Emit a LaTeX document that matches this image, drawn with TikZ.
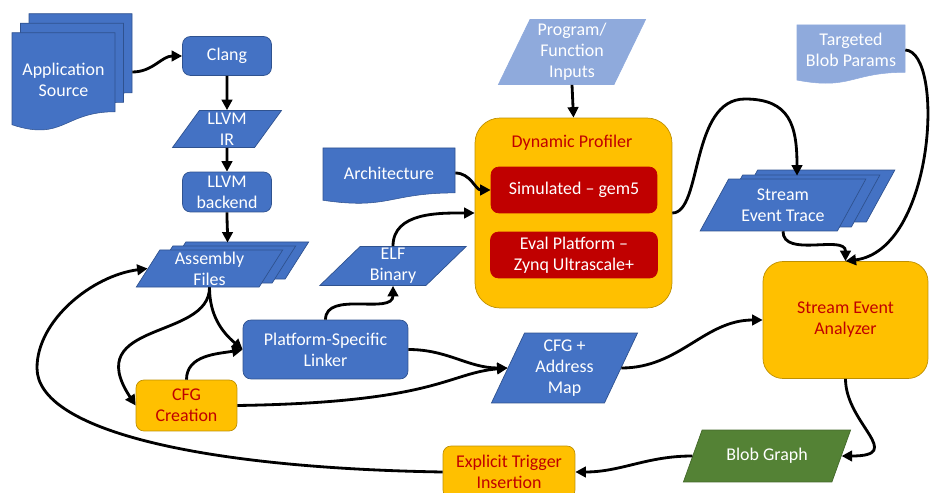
\documentclass[tikz,border=0pt]{standalone}
\usepackage{fontspec}
\setmainfont{Carlito}
\usetikzlibrary{arrows.meta,shapes.geometric,shadows}

\definecolor{boxblue}{HTML}{4472C4}
\definecolor{boxblueline}{HTML}{2F528F}
\definecolor{paleblue}{HTML}{8FAADC}
\definecolor{boxyellow}{HTML}{FFC000}
\definecolor{boxyellowline}{HTML}{BF9000}
\definecolor{darkred}{HTML}{C00000}
\definecolor{boxgreen}{HTML}{548235}

% document shape: centre x, centre y, width, height, style
\newcommand{\docshape}[5]{%
  \filldraw[#5] (#1-#3/2,#2-#4/2) -- (#1+#3/2,#2-#4/2) -- (#1+#3/2,#2-#4/2+0.802*#4)
    .. controls (#1,#2-#4/2+0.802*#4) and (#1,#2-#4/2+1.107*#4) .. (#1-#3/2,#2-#4/2+0.934*#4) -- cycle;}

\tikzset{
  proc/.style={rectangle, rounded corners=0.16cm, fill=boxblue, draw=boxblueline, text=white},
  stage/.style={rectangle, rounded corners=0.16cm, fill=boxyellow, draw=boxyellowline, text=darkred},
  tool/.style={rectangle, rounded corners=0.16cm, fill=darkred, draw=darkred, text=white},
  data/.style 2 args={trapezium, trapezium stretches=true, trapezium left angle=#1,
    trapezium right angle=#2, fill=boxblue, draw=boxblueline, text=white},
  docu/.style={fill=boxblue, draw=boxblueline, line width=0.3pt},
}

\begin{document}
\begin{tikzpicture}[x=0.02cm, y=-0.02cm]
    \useasboundingbox (0,0) rectangle (930,493);

    % document shapes behind their labels
    \docshape{80.5}{63}{103}{98.5}{docu}
    \docshape{72}{72.5}{103}{98.5}{docu}
    \docshape{63.5}{82}{103}{98.5}{docu}
    \docshape{389}{176}{132}{56}{docu}
    \docshape{851}{54.5}{108}{59}{docu, fill=paleblue, draw=paleblue}

    \begin{scope}[every node/.style={align=center, inner sep=1pt, font=\fontsize{10.2}{12}\selectfont}]
      \node[text=white, minimum width=2.06cm, minimum height=1.97cm] (appsrc) at (63.5,80) {Application\\Source};
      \node[text=white, minimum width=2.64cm, minimum height=1.12cm] (arch) at (389,173) {Architecture};
      \node[text=white, minimum width=2.16cm, minimum height=1.18cm] (blobparams) at (851,50) {Targeted\\Blob Params};

      \node[proc, minimum width=1.78cm, minimum height=0.78cm] (clang) at (227,56) {Clang};
      \node[data={60}{120}, minimum width=2.18cm, minimum height=0.74cm] (llvmir) at (227,129) {LLVM\\IR};
      \node[proc, minimum width=1.78cm, minimum height=0.8cm] (backend) at (227,192) {LLVM\\backend};
      \node[data={65}{115}, minimum width=2.94cm, minimum height=0.74cm,
        copy shadow={shadow xshift=0.52cm, shadow yshift=0.16cm, fill=boxblue, draw=boxblueline},
        copy shadow={shadow xshift=0.26cm, shadow yshift=0.08cm, fill=boxblue, draw=boxblueline}] (asm) at (209.5,268.5) {Assembly\\Files};
      \node[data={52}{128}, minimum width=2.94cm, minimum height=0.74cm] (elf) at (393,266) {ELF\\Binary};
      \node[proc, minimum width=3.3cm, minimum height=1.18cm] (linker) at (325.5,349.5) {Platform-Specific\\Linker};
      \node[stage, minimum width=2.02cm, minimum height=1.02cm] (cfg) at (186.5,405.5) {CFG\\Creation};
      \node[data={67}{113}, minimum width=2.94cm, minimum height=1.4cm] (cfgmap) at (564.5,368) {CFG +\\Address\\Map};

      \node[data={66}{114}, fill=paleblue, draw=paleblue, minimum width=2.96cm, minimum height=1.3cm] (inputs) at (572,52) {Program/\\Function\\Inputs};
      \node[stage, rounded corners=0.5cm, minimum width=3.94cm, minimum height=3.8cm] (profiler) at (573.5,213) {};
      \node[text=darkred] (proftitle) at (572,143) {Dynamic Profiler};
      \node[tool, minimum width=3.32cm, minimum height=0.92cm] (sim) at (574,190) {Simulated -- gem5};
      \node[tool, minimum width=3.34cm, minimum height=0.92cm] (eval) at (574,255) {Eval Platform --\\Zynq Ultrascale+};

      \node[data={58}{122}, minimum width=3.32cm, minimum height=1.04cm,
        copy shadow={shadow xshift=0.58cm, shadow yshift=0.18cm, fill=boxblue, draw=boxblueline},
        copy shadow={shadow xshift=0.28cm, shadow yshift=0.08cm, fill=boxblue, draw=boxblueline}] (trace) at (783,205) {Stream\\Event Trace};
      \node[stage, rounded corners=0.4cm, minimum width=3.3cm, minimum height=2.34cm] (analyzer) at (845.5,320) {Stream Event\\Analyzer};
      \node[data={57}{123}, fill=boxgreen, draw=boxgreen!80!black, minimum width=3.36cm, minimum height=1.04cm] (blob) at (767,456) {Blob Graph};
      \node[stage, minimum width=2.64cm, minimum height=1.04cm] (trigger) at (509,472) {Explicit Trigger\\Insertion};
    \end{scope}

    \begin{scope}[>={Triangle[length=6pt,width=6pt]}, line width=1.6pt,
                  every edge/.style={draw=black, line width=1.6pt}]
      \path[->] ([xshift=0.34cm,yshift=0.16cm]appsrc.east) edge[out=0,in=180] (clang.west);
      \path[->] (clang.south) edge (llvmir.north);
      \path[->] (llvmir.south) edge (backend.north);
      \path[->] (backend.south) edge[out=-90,in=90] ([xshift=0.36cm,yshift=0.14cm]asm.north);
      \path[->] (asm.south) edge[out=-90,in=140] (linker.west);
      \draw[->] (asm.south) .. controls +(0,53) and +(-56,-85) .. (cfg.west);
      \path[->] (cfg.north) edge[out=90,in=190] (linker.west);
      \draw[->] (cfg.east) .. controls +(200,-3) and +(-60,5) .. (cfgmap.west);
      \path[->] (linker.east) edge[out=0,in=180] (cfgmap.west);
      \path[->] (linker.north) edge[out=90,in=-90] (elf.south);
      \path[->] (elf.north) edge[out=90,in=180] (profiler.west);
      \path[->] (arch.east) edge[out=0,in=180] (sim.west);
      \path[->] (inputs.south) edge (profiler.north);
      \draw[->] (profiler.east) .. controls +(30,0) and +(-55,0) .. (745,99)
                .. controls +(45,0) and +(0,-50) .. ([xshift=0.28cm,yshift=0.06cm]trace.north);
      \path[->] (trace.south) edge[out=-90,in=90] (analyzer.north);
      \draw[->] (blobparams.east) .. controls (945,52) and (935,250) .. (analyzer.north);
      \path[->] (cfgmap.east) edge[out=0,in=180] (analyzer.west);
      \draw[->] (analyzer.south) .. controls +(0,45) and +(65,0) .. (blob.east);
      \path[->] (blob.west) edge[out=180,in=0] (trigger.east);
      \draw[->] (trigger.west) .. controls +(-243,-4) and +(0,62) .. (37,368)
                .. controls +(0,-48) and +(-55,7) .. (asm.west);
    \end{scope}
\end{tikzpicture}
\end{document}
